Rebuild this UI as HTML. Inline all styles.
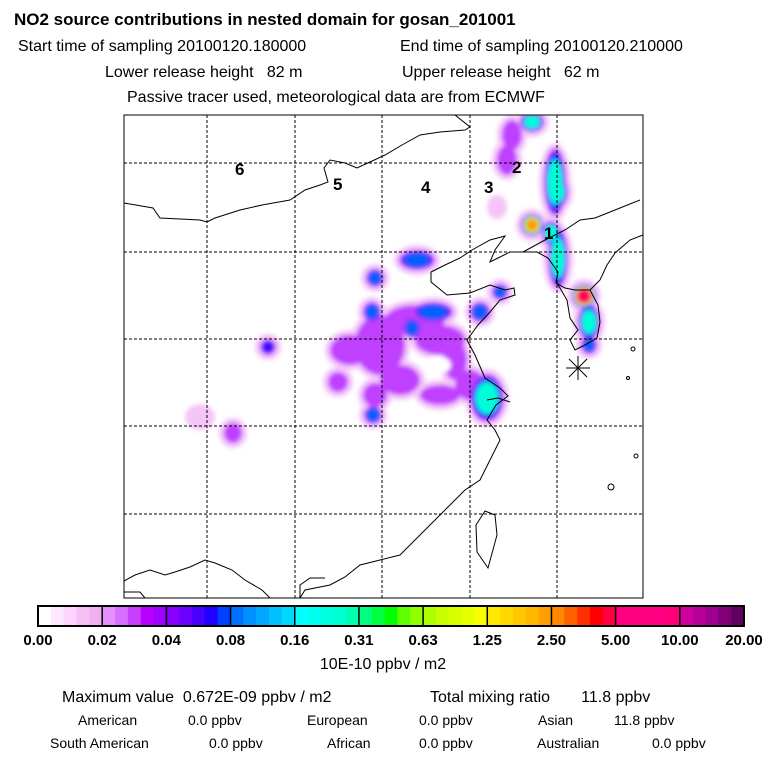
<!DOCTYPE html>
<html><head><meta charset="utf-8">
<style>
body{margin:0;background:#fff;}
svg{display:block;font-family:"Liberation Sans",sans-serif;}
text{white-space:pre;}
</style></head>
<body>
<svg id="chart" width="768" height="768" viewBox="0 0 768 768">
<defs>
<filter id="blur" x="-50%" y="-50%" width="200%" height="200%"><feGaussianBlur stdDeviation="2"/></filter>
<clipPath id="mapclip"><rect x="124" y="115" width="519" height="483"/></clipPath>
</defs>
<text x="14" y="25" font-size="17" font-weight="bold">NO2 source contributions in nested domain for gosan_201001</text>
<text x="18" y="51" font-size="16">Start time of sampling 20100120.180000</text>
<text x="400" y="51" font-size="16">End time of sampling 20100120.210000</text>
<text x="105" y="77" font-size="16">Lower release height   82 m</text>
<text x="402" y="77" font-size="16">Upper release height   62 m</text>
<text x="127" y="102" font-size="16">Passive tracer used, meteorological data are from ECMWF</text>

<g id="map" clip-path="url(#mapclip)">
<g id="plumes" filter="url(#blur)"></g>
<g id="grid"></g>
<g fill="none" stroke="#000" stroke-width="1">
<polyline points="124,203 153,208 160,218 200,220 207,222 215,218 240,210 262,205 290,200 305,190 320,185 328,182 324,168 330,160 345,163 357,168 370,162 385,155 402,145 420,135 440,132 465,130 470,127 455,115"/>
<polyline points="431,272 431,282 447,295 470,293 490,285 505,290 514,288 515,295 500,300 490,312 478,325 467,340 475,355 485,378 500,388 508,396 496,405 487,420 495,430 500,440 490,460 480,480 465,490 450,505 435,520 415,540 400,555 380,560 360,565 345,577 330,585 305,590 300,598"/>
<polyline points="431,272 445,265 460,258 472,250 490,240 505,236 495,250 490,262 498,258 510,252 523,252 537,252 548,258 558,272 556,283 565,288 575,290 590,290 598,305 600,322 597,338 585,345 575,350 570,340 578,330 570,318 567,300 557,283"/>
<polyline points="523,252 545,240 565,230 580,220 595,218 610,212 640,200"/>
<polyline points="590,290 600,280 607,265 615,253 630,240 643,235"/>
<polyline points="487,400 498,398 510,402"/>
<polygon points="485,511 495,515 497,535 488,568 477,552 476,525"/>
<polyline points="124,581 135,575 150,570 165,575 175,572 190,567 205,560 215,563 232,570 245,580 262,590 270,598"/>
<polyline points="124,592 140,592 145,598"/>
<polyline points="300,598 300,585 310,578 325,578"/>
<circle cx="633" cy="349" r="2"/><circle cx="628" cy="378" r="1.5"/><circle cx="636" cy="456" r="2"/><circle cx="611" cy="487" r="3"/>
</g>
<g font-size="17" font-weight="bold">
<text x="235" y="175">6</text>
<text x="333" y="190">5</text>
<text x="421" y="193">4</text>
<text x="484" y="193">3</text>
<text x="512" y="173">2</text>
<text x="544" y="239">1</text>
</g>
<g stroke="#000" stroke-width="1">
<line x1="566" y1="368" x2="590" y2="368"/><line x1="578" y1="356" x2="578" y2="380"/>
<line x1="569" y1="359" x2="587" y2="377"/><line x1="587" y1="359" x2="569" y2="377"/>
</g>
</g>
<rect x="124" y="115" width="519" height="483" fill="none" stroke="#000" stroke-width="1"/>

<g id="colorbar"></g>
<text x="383" y="669" font-size="16" text-anchor="middle">10E-10 ppbv / m2</text>
<g font-size="16">
<text x="62" y="702">Maximum value  0.672E-09 ppbv / m2</text>
<text x="430" y="702">Total mixing ratio       11.8 ppbv</text>
</g>
<g font-size="14">
<text x="78" y="725">American</text>
<text x="188" y="725">0.0 ppbv</text>
<text x="307" y="725">European</text>
<text x="419" y="725">0.0 ppbv</text>
<text x="538" y="725">Asian</text>
<text x="614" y="725">11.8 ppbv</text>
<text x="50" y="748">South American</text>
<text x="209" y="748">0.0 ppbv</text>
<text x="327" y="748">African</text>
<text x="419" y="748">0.0 ppbv</text>
<text x="537" y="748">Australian</text>
<text x="652" y="748">0.0 ppbv</text>
</g>
</svg>
<script>
const tickLabels=["0.00","0.02","0.04","0.08","0.16","0.31","0.63","1.25","2.50","5.00","10.00","20.00"];
const segColors=[
 ["#ffffff","#ffe8ff","#fcd4fc","#f6c0f6","#f0b0f0"],
 ["#e890ff","#d870ff","#c840ff","#b800ff","#a000ff"],
 ["#8800ff","#6a00ff","#4800ff","#2000ff","#0040ff"],
 ["#0070ff","#0090ff","#00a8ff","#00c0ff","#00d8ff"],
 ["#00ffff","#00fff0","#00ffe0","#00ffd0","#00ffb0"],
 ["#00ff80","#00ff40","#00ff00","#60ff00","#90ff00"],
 ["#b0ff00","#c8ff00","#d8ff00","#e8ff00","#f8ff00"],
 ["#ffe800","#ffd800","#ffc800","#ffb800","#ffa000"],
 ["#ff8800","#ff6000","#ff3000","#ff0000","#ff0040"],
 ["#ff0080","#ff0080","#ff0080","#ff0080","#ff0078"],
 ["#d000a0","#b80098","#a00090","#800078","#600060"]];
const gridX=[207,295,382,470,557];
const gridY=[163,252,339,426,514];
// plume blobs: centre, radii, and concentration level (colorbar segment)
const blobX=[532,555,557,532,558,584,589,589,417,375,372,433,412,480,500,487,373,268,233,200,338,350,380,415,440,455,470,400,375,440,512,507,497,551];
const blobY=[122,182,192,225,258,296,322,345,260,278,312,312,328,312,292,398,415,347,433,417,382,350,345,320,340,360,385,380,395,395,135,160,207,233];
const blobRX=[12,11,11,11,10,12,11,8,18,9,9,20,9,10,8,17,9,8,9,10,10,20,25,30,25,12,15,20,12,20,10,10,5,9];
const blobRY=[10,34,16,11,30,12,18,9,10,9,10,10,10,10,8,24,9,8,10,8,10,15,30,15,15,20,15,15,12,10,15,15,7,12];
const blobLevel=[4,4,4,7,4,9,4,3,3,3,3,3,3,3,3,4,3,2,1,0,1,1,1,1,1,1,1,1,1,1,1,1,0,4];

const NS="http://www.w3.org/2000/svg";
const xL=124,xR=643,yT=115,yB=598;
const gGrid=document.getElementById('grid');
gridX.forEach(x=>{const l=document.createElementNS(NS,'line');l.setAttribute('x1',x);l.setAttribute('x2',x);l.setAttribute('y1',yT);l.setAttribute('y2',yB);l.setAttribute('stroke','#000');l.setAttribute('stroke-dasharray','3,2');


gGrid.appendChild(l);});
gridY.forEach(y=>{const l=document.createElementNS(NS,'line');l.setAttribute('y1',y);l.setAttribute('y2',y);l.setAttribute('x1',xL);l.setAttribute('x2',xR);l.setAttribute('stroke','#000');l.setAttribute('stroke-dasharray','3,2');


gGrid.appendChild(l);});

const layerCol=["#f4c4f8","#c040ff","#3a10ff","#0060ff","#00ffd8","#40ff40","#f0ff00","#ffa000","#ff2000","#ff0060"];
const gP=document.getElementById('plumes');
const order=blobLevel.map((v,i)=>i);
for(let pass=0;pass<=9;pass++){
 order.forEach(i=>{
  const lv=blobLevel[i]; if(pass>lv) return;
  let fx;
  if(pass==0) fx=1;
  else fx=1-(pass-1)/Math.max(lv,1)*0.45;
  const pad=pass==0?5:0;
  const e=document.createElementNS(NS,'ellipse');
  e.setAttribute('cx',blobX[i]);e.setAttribute('cy',blobY[i]);
  e.setAttribute('rx',blobRX[i]*fx+pad);e.setAttribute('ry',blobRY[i]*fx+pad);
  e.setAttribute('fill',layerCol[pass]);
  
  
  gP.appendChild(e);
 });
}
const hole=document.createElementNS(NS,'ellipse');
hole.setAttribute('cx',437);hole.setAttribute('cy',365);hole.setAttribute('rx',14);hole.setAttribute('ry',9);hole.setAttribute('fill','#ffffff');


gP.appendChild(hole);

const cb=document.getElementById('colorbar');
const cbX0=38,cbX1=744,cbY=606,cbH=20;
const segW=(cbX1-cbX0)/segColors.length;
segColors.forEach((cols,s)=>{
 const sw=segW/cols.length;
 cols.forEach((c,k)=>{
  const r=document.createElementNS(NS,'rect');
  r.setAttribute('x',cbX0+s*segW+k*sw);r.setAttribute('y',cbY);r.setAttribute('width',sw+0.5);r.setAttribute('height',cbH);r.setAttribute('fill',c);
  
  
  cb.appendChild(r);
 });
});
tickLabels.forEach((t,i)=>{
 const x=cbX0+i*segW;
 const l=document.createElementNS(NS,'line');
 l.setAttribute('x1',x);l.setAttribute('x2',x);l.setAttribute('y1',cbY);l.setAttribute('y2',cbY+cbH);l.setAttribute('stroke','#000');l.setAttribute('stroke-width','1.5');
 
 
 cb.appendChild(l);
 const tx=document.createElementNS(NS,'text');
 tx.setAttribute('x',Math.max(x,22));tx.setAttribute('y',645);tx.setAttribute('font-size','15');tx.setAttribute('font-weight','bold');
 tx.setAttribute('text-anchor','middle');
 tx.textContent=t;
 
 
 cb.appendChild(tx);
});
const fr=document.createElementNS(NS,'rect');
fr.setAttribute('x',cbX0);fr.setAttribute('y',cbY);fr.setAttribute('width',cbX1-cbX0);fr.setAttribute('height',cbH);fr.setAttribute('fill','none');fr.setAttribute('stroke','#000');fr.setAttribute('stroke-width','2');


cb.appendChild(fr);
</script>
</body></html>
